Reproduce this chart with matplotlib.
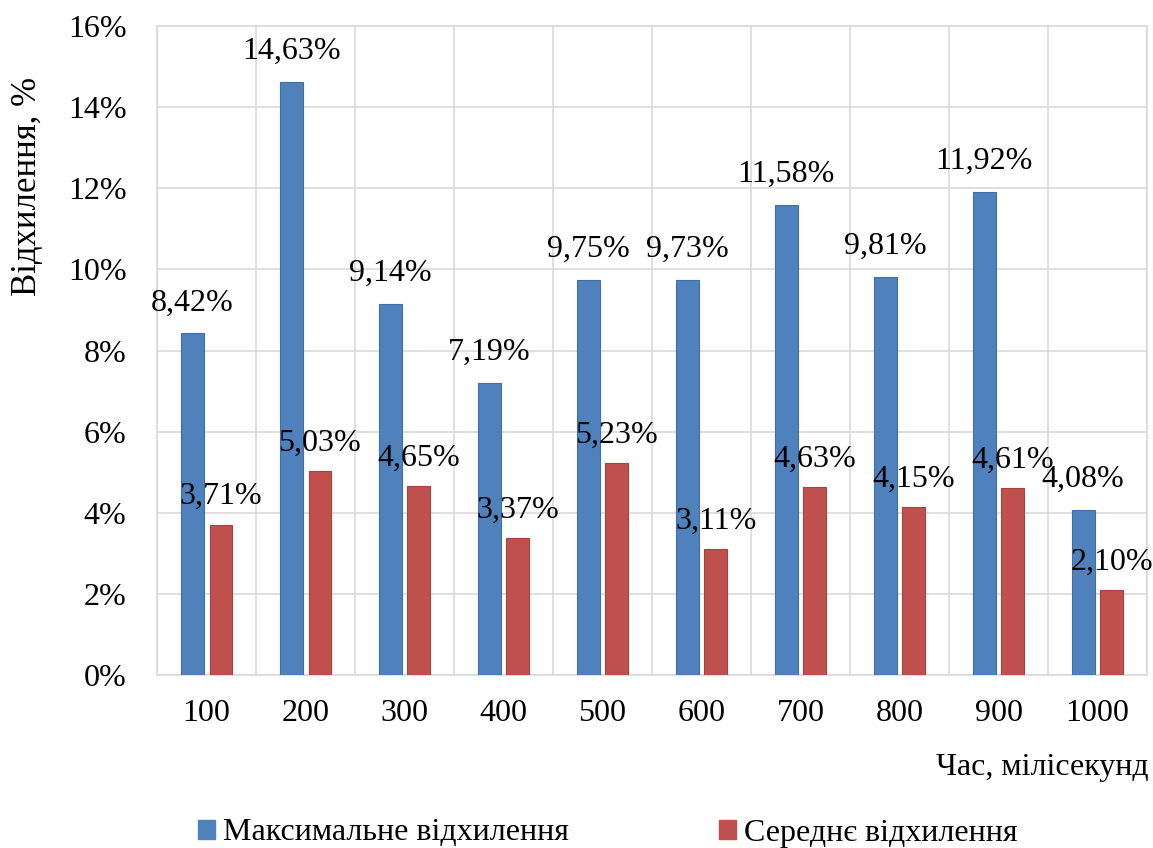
import numpy as np
import matplotlib.pyplot as plt
from matplotlib.patches import Patch

# Дані: час (мс) та відхилення (%)
categories = ['100', '200', '300', '400', '500', '600', '700', '800', '900', '1000']
max_dev = [8.42, 14.63, 9.14, 7.19, 9.75, 9.73, 11.58, 9.81, 11.92, 4.08]
mean_dev = [3.71, 5.03, 4.65, 3.37, 5.23, 3.11, 4.63, 4.15, 4.61, 2.10]

plt.rcParams['font.family'] = ['Liberation Serif', 'DejaVu Serif']

blue = '#4F81BD'
red = '#C0504D'
grid_c = '#D9D9D9'
fs = 23

fig = plt.figure(figsize=(11.53, 8.48), dpi=100)
ax = fig.add_axes([0.1362, 0.2040, 0.8586, 0.7653])

x = np.arange(len(categories))
w = 0.232
off = 0.146

ax.bar(x - off, max_dev, w, color=blue, edgecolor='#3F6FA8', linewidth=0.8, zorder=3)
ax.bar(x + off, mean_dev, w, color=red, edgecolor='#A8423F', linewidth=0.8, zorder=3)

# підписи значень над стовпцями
for i in range(len(categories)):
    ax.annotate(f'{max_dev[i]:.2f}%'.replace('.', ','), (x[i] - off, max_dev[i]),
                xytext=(0, 22), textcoords='offset points', ha='center', va='center',
                fontsize=fs, color='black', zorder=4)
    ax.annotate(f'{mean_dev[i]:.2f}%'.replace('.', ','), (x[i] + off, mean_dev[i]),
                xytext=(0, 20), textcoords='offset points', ha='center', va='center',
                fontsize=fs, color='black', zorder=4)

ax.set_xlim(-0.5, len(categories) - 0.5)
ax.set_ylim(0, 16)
ax.set_yticks(np.arange(0, 17, 2))
ax.set_yticklabels([f'{v}%' for v in range(0, 17, 2)], fontsize=fs)
ax.set_xticks(x)
ax.set_xticklabels(categories, fontsize=fs)
ax.tick_params(axis='y', length=0, pad=22)
ax.tick_params(axis='x', length=0, pad=17)

# сітка: горизонтальні лінії та межі категорій
ax.set_xticks(np.arange(-0.5, len(categories)), minor=True)
ax.grid(True, axis='y', color=grid_c, linewidth=1.2, zorder=0)
ax.grid(True, axis='x', which='minor', color=grid_c, linewidth=1.2, zorder=0)
ax.tick_params(which='minor', length=0)
for s in ax.spines.values():
    s.set_color(grid_c)
    s.set_linewidth(1.2)

fig.text(0.996, 1 - 768 / 848, 'Час, мілісекунд', ha='right', va='center', fontsize=fs)
fig.text(28 / 1153, 1 - 186 / 848, 'Відхилення, %', rotation=90, ha='center', va='center',
         fontsize=25)

handles = [Patch(facecolor=blue, edgecolor=blue), Patch(facecolor=red, edgecolor=red)]
fig.legend(handles, ['Максимальне відхилення', 'Середнє відхилення'],
           loc='center left', bbox_to_anchor=(198 / 1153, 1 - 833 / 848), ncol=2,
           frameon=False, fontsize=fs, handlelength=0.53, handleheight=0.53,
           handletextpad=0.25, columnspacing=4.7, borderpad=0, borderaxespad=0)

fig.savefig('out.png', dpi=100)
